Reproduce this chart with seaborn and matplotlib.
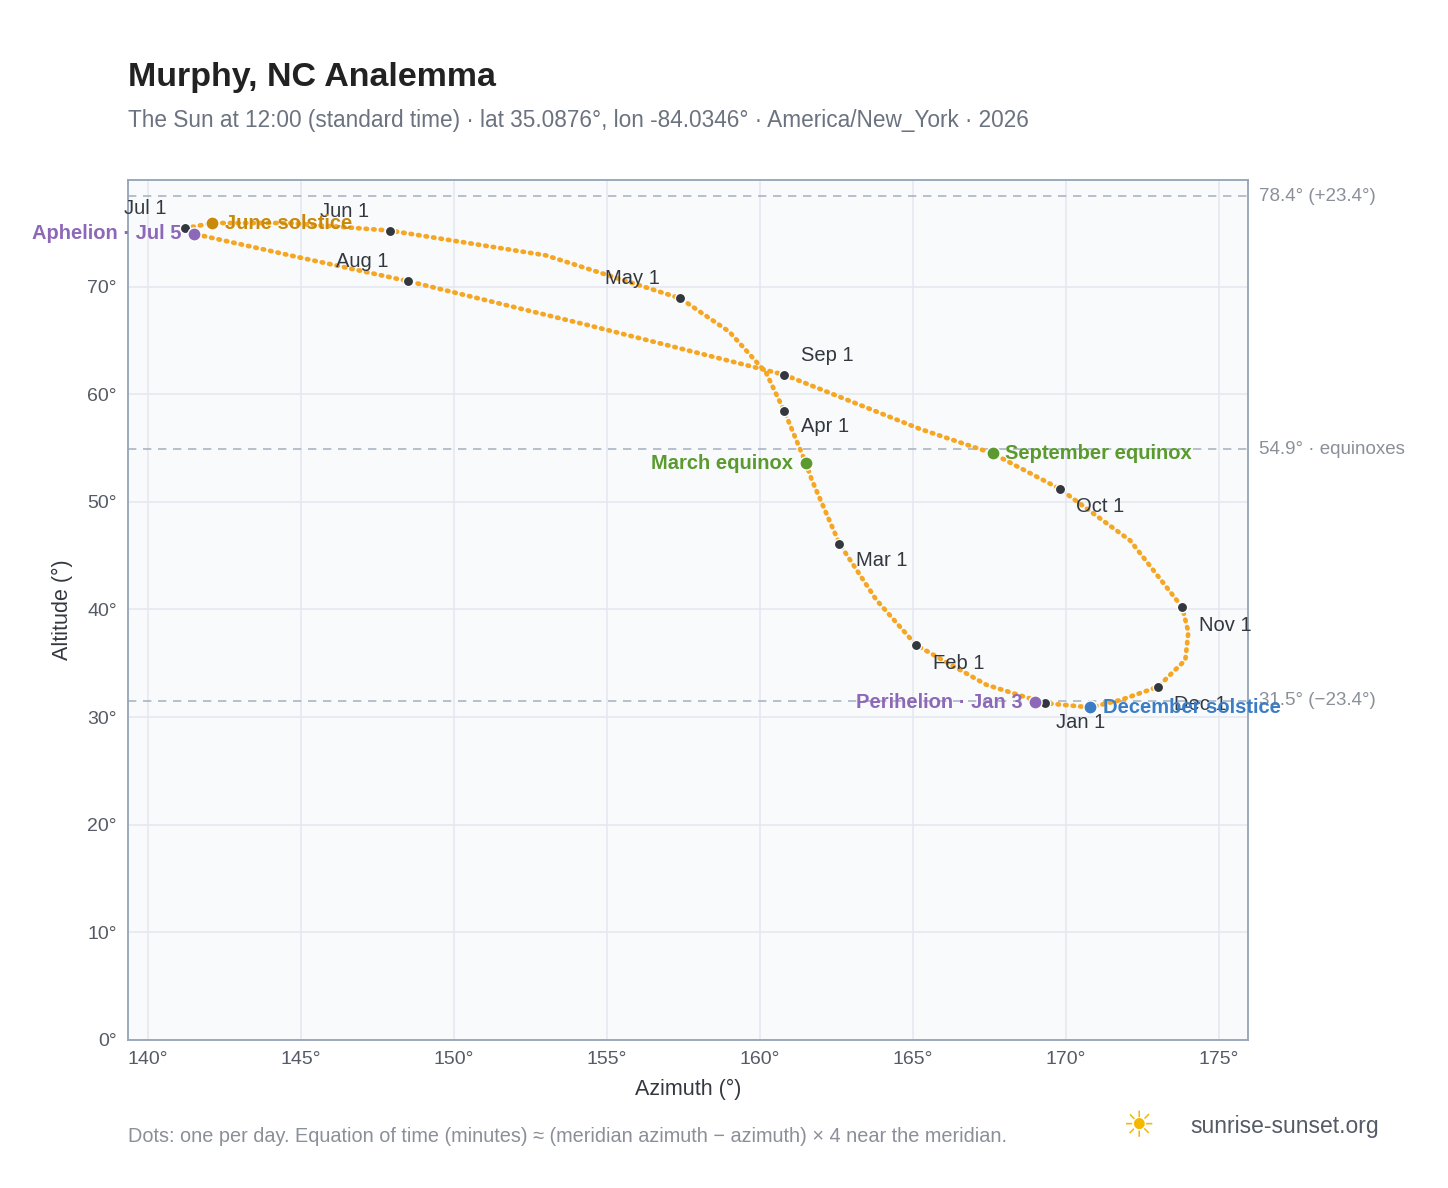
import matplotlib
matplotlib.use("Agg")
import matplotlib.pyplot as plt
import seaborn as sns
import pandas as pd

# traced path (ordered through the year)
path_az = [169.3, 167.4, 165.1, 163.8, 162.6, 161.7, 161.5, 160.8, 160.2, 159.0, 157.4, 153.0,
           147.9, 144.6, 142.1, 141.2, 141.5, 144.8, 148.5, 154.4, 160.8, 165.2, 167.6, 169.8,
           172.1, 173.8, 174.0, 173.9, 173.0, 171.8, 170.8, 169.3]
path_alt = [31.3, 33.0, 36.7, 40.9, 46.1, 52.0, 53.6, 58.4, 62.0, 65.8, 68.9, 72.9,
            75.2, 75.9, 75.9, 75.4, 74.9, 72.8, 70.5, 66.4, 61.8, 56.8, 54.5, 51.2,
            46.4, 40.2, 37.9, 35.3, 32.8, 31.6, 30.9, 31.3]

months = ["Jan 1", "Feb 1", "Mar 1", "Apr 1", "May 1", "Jun 1", "Jul 1", "Aug 1",
          "Sep 1", "Oct 1", "Nov 1", "Dec 1"]
month_az = [169.3, 165.1, 162.6, 160.8, 157.4, 147.9, 141.2, 148.5, 160.8, 169.8, 173.8, 173.0]
month_alt = [31.3, 36.7, 46.1, 58.4, 68.9, 75.2, 75.4, 70.5, 61.8, 51.2, 40.2, 32.8]
month_off = [(8, -14), (12, -13), (12, -12), (12, -11), (-54, 14), (-50, 14), (-44, 14), (-52, 14),
             (12, 14), (12, -13), (12, -13), (12, -13)]

events = ["March equinox", "September equinox", "June solstice", "December solstice",
          "Perihelion · Jan 3", "Aphelion · Jul 5"]
event_az = [161.5, 167.6, 142.1, 170.8, 169.0, 141.5]
event_alt = [53.6, 54.5, 75.9, 30.9, 31.4, 74.9]
event_col = ["#5a9a2e", "#5a9a2e", "#c98a0c", "#3b7dc4", "#8e68b8", "#8e68b8"]
event_off = [(-9, 0, "right"), (9, 0, "left"), (9, 0, "left"), (9, 0, "left"),
             (-9, 0, "right"), (-9, 0, "right")]

ref_alt = [78.4, 54.9, 31.5]
ref_lbl = ["78.4° (+23.4°)", "54.9° · equinoxes", "31.5° (−23.4°)"]

sns.set_theme(style="white")
plt.rcParams['font.family'] = ['Liberation Sans', 'DejaVu Sans']
fig = plt.figure(figsize=(14.48, 11.88), dpi=100)
ax = fig.add_axes([0.0884, 0.1246, 0.7735, 0.7239])
ax.set_facecolor("#f8fafc")
ax.set_xlim(139.35, 175.95)
ax.set_ylim(0, 79.9)
ax.set_xticks(range(140, 176, 5))
ax.set_xticklabels([f"{v}°" for v in range(140, 176, 5)])
ax.set_yticks(range(0, 71, 10))
ax.set_yticklabels([f"{v}°" for v in range(0, 71, 10)])
ax.grid(True, color="#e5e9ef", lw=1.2)
for s in ax.spines.values():
    s.set_color("#94a3b8"); s.set_linewidth(1.3)
ax.tick_params(colors="#555b66", labelsize=14, length=0, pad=8)

for a, l in zip(ref_alt, ref_lbl):
    ax.axhline(a, color="#aab6c4", ls=(0, (5, 4)), lw=1.2)
    ax.annotate(l, (1, a), xycoords=("axes fraction", "data"), xytext=(8, 0),
                textcoords="offset points", va="center", fontsize=13.5, color="#8a8f98",
                annotation_clip=False)

df = pd.DataFrame({"az": path_az, "alt": path_alt})
ax.plot(df.az, df.alt, color="#f5a623", lw=3.4, ls=(0, (0.3, 1.3)), dash_capstyle="round")

mdf = pd.DataFrame({"az": month_az, "alt": month_alt})
sns.scatterplot(data=mdf, x="az", y="alt", ax=ax, color="#333840", s=55,
                edgecolor="white", linewidth=1, zorder=5)
for t, x, y, o in zip(months, month_az, month_alt, month_off):
    ax.annotate(t, (x, y), xytext=o, textcoords="offset points", fontsize=14.5,
                color="#333840", va="center")

for t, x, y, c, o in zip(events, event_az, event_alt, event_col, event_off):
    ax.scatter([x], [y], s=90, color=c, edgecolor="white", linewidth=1, zorder=6)
    ax.annotate(t, (x, y), xytext=o[:2], textcoords="offset points", fontsize=14.5,
                color=c, fontweight="bold", ha=o[2], va="center", annotation_clip=False)

ax.set_xlabel("Azimuth (°)", fontsize=15.5, color="#333840", labelpad=8)
ax.set_ylabel("Altitude (°)", fontsize=15.5, color="#333840", labelpad=10)

fig.text(0.0884, 0.928, "Murphy, NC Analemma", fontsize=24.5, fontweight="bold", color="#222222")
fig.text(0.0884, 0.893, "The Sun at 12:00 (standard time) · lat 35.0876°, lon -84.0346° · America/New_York · 2026",
         fontsize=16.3, color="#6b7280")
fig.text(0.0884, 0.039, "Dots: one per day. Equation of time (minutes) ≈ (meridian azimuth − azimuth) × 4 near the meridian.",
         fontsize=14.3, color="#8a8f98")
fig.text(0.822, 0.046, "sunrise-sunset.org", fontsize=16.5, color="#555b66")
fig.text(0.775, 0.043, "☀", fontsize=26, color="#f5b800")
fig.savefig("out.png", dpi=100)
